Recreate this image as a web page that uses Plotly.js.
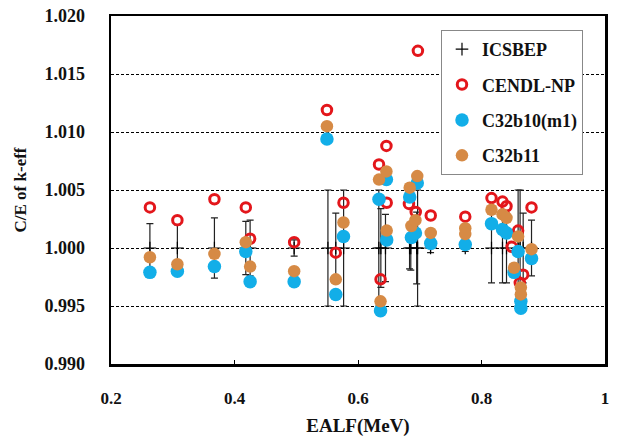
<!DOCTYPE html>
<html>
<head>
<meta charset="utf-8">
<script src="https://cdn.plot.ly/plotly-3.0.1.min.js"></script>
<style>html,body{margin:0;padding:0;background:#fff;}#chart{width:618px;height:440px;}</style>
</head>
<body>
<div id="chart"></div>
<script>
// ICSBEP benchmark (C/E = 1 by definition) with experimental uncertainty
const icsX   = [0.263,0.3075,0.3675,0.4183,0.4253,0.4966,0.5513,0.564,0.5767,0.6337,0.637,0.6445,0.6835,0.6855,0.695,0.6965,0.7175,0.7737,0.8162,0.834,0.8405,0.8593,0.8625,0.8675,0.881];
const icsY   = [1,1,1,1,1,1,1,1,1,1,1,1,1,1,1,1,1,1,1,1,1,1,1,1,1];
const icsErr = [0.0021,0.0020,0.0026,0.0023,0.0024,0.0007,0.0050,0.0030,0.0050,0.0050,0.0034,0.0029,0.0018,0.0019,0.0031,0.0050,0.0004,0.0003,0.0030,0.0030,0.0030,0.0050,0.0050,0.0030,0.0024];

// CENDL-NP
const cendlX = [0.263,0.3075,0.3675,0.4183,0.4253,0.4966,0.5497,0.564,0.5765,0.634,0.646,0.6465,0.6365,0.6825,0.6935,0.697,0.7178,0.7737,0.8162,0.834,0.8405,0.8593,0.849,0.8675,0.862,0.881];
const cendlY = [1.0035,1.0024,1.0042,1.0035,1.0008,1.0005,1.0119,0.9996,1.0039,1.0072,1.0088,1.0039,0.9973,1.0038,1.0031,1.0170,1.0028,1.0027,1.0043,1.0040,1.0036,1.0015,1.0001,0.9977,0.9970,1.0035];

// C32b10(m1)
const c10X = [0.263,0.3075,0.3675,0.4183,0.4253,0.4966,0.5497,0.564,0.5765,0.634,0.646,0.6465,0.6365,0.6837,0.696,0.6865,0.693,0.7178,0.7737,0.8162,0.834,0.8405,0.8593,0.8528,0.8637,0.8637,0.881];
const c10Y = [0.9979,0.9980,0.9984,0.9997,0.9971,0.9971,1.0094,0.9960,1.0010,1.0042,1.0059,1.0007,0.9946,1.0044,1.0056,1.0009,1.0013,1.0004,1.0003,1.0021,1.0016,1.0013,0.9997,0.9979,0.9954,0.9948,0.9991];

// C32b11
const c11X = [0.263,0.3075,0.3675,0.4183,0.4253,0.4966,0.5497,0.564,0.5765,0.634,0.646,0.6465,0.6365,0.6837,0.696,0.6865,0.693,0.7178,0.7737,0.7737,0.8162,0.834,0.8405,0.8593,0.8528,0.8637,0.8637,0.881];
const c11Y = [0.9992,0.9986,0.9995,1.0005,0.9984,0.9980,1.0105,0.9973,1.0022,1.0059,1.0066,1.0015,0.9954,1.0052,1.0062,1.0019,1.0024,1.0013,1.0017,1.0012,1.0033,1.0029,1.0026,1.0010,0.9983,0.9966,0.9960,0.9999];

const xTicks = [0.2,0.4,0.6,0.8,1.0];
const xTickText = ['0.2','0.4','0.6','0.8','1'];
const yTicks = [0.990,0.995,1.000,1.005,1.010,1.015,1.020];
const yTickText = ['0.990','0.995','1.000','1.005','1.010','1.015','1.020'];

const serif = '"Liberation Serif", "Times New Roman", serif';

const traces = [
  {
    x: icsX, y: icsY, name: 'ICSBEP', type: 'scatter', mode: 'markers',
    legendgroup: 'g1',
    marker: {symbol: 'cross-thin-open', size: 9, color: '#000', line: {color: '#000', width: 1.2}},
    error_y: {type: 'data', array: icsErr, visible: true, color: '#222', thickness: 1.2, width: 3.5}
  },
  {
    x: cendlX, y: cendlY, name: 'CENDL-NP', type: 'scatter', mode: 'markers',
    legendgroup: 'g2',
    marker: {symbol: 'circle-open', size: 9.5, color: '#e3161b', line: {color: '#e3161b', width: 3}}
  },
  {
    x: c10X, y: c10Y, name: 'C32b10(m1)', type: 'scatter', mode: 'markers',
    legendgroup: 'g3',
    marker: {symbol: 'circle', size: 13.5, color: '#12aee8', line: {width: 0}}
  },
  {
    x: c11X, y: c11Y, name: 'C32b11', type: 'scatter', mode: 'markers',
    legendgroup: 'g4',
    marker: {symbol: 'circle', size: 12.5, color: '#d68a45', line: {width: 0}}
  }
];

const layout = {
  width: 618, height: 440,
  margin: {l: 111, r: 13, t: 16, b: 76},
  paper_bgcolor: '#fff', plot_bgcolor: '#fff',
  showlegend: true,
  legend: {
    x: 0.668, y: 0.96, xanchor: 'left', yanchor: 'top',
    bgcolor: '#fff', bordercolor: '#888', borderwidth: 1,
    font: {family: serif, size: 18, color: '#111', weight: 'bold'},
    itemwidth: 30, traceorder: 'grouped', tracegroupgap: 9
  },
  xaxis: {
    range: [0.2, 1.0], tickmode: 'array', tickvals: xTicks, ticktext: xTickText,
    showgrid: false, zeroline: false,
    showline: true, linecolor: '#000', linewidth: 2.5, mirror: true,
    ticks: 'inside', ticklen: 4, tickcolor: '#000', tickwidth: 1,
    ticklabelstandoff: 17,
    tickfont: {family: serif, size: 17, color: '#111', weight: 'bold'},
    title: {text: 'EALF(MeV)', standoff: 12, font: {family: serif, size: 19, color: '#111', weight: 'bold'}}
  },
  yaxis: {
    range: [0.990, 1.020], tickmode: 'array', tickvals: yTicks, ticktext: yTickText,
    showgrid: true, gridcolor: '#000', gridwidth: 1, griddash: '3px,2px',
    zeroline: false,
    showline: true, linecolor: '#000', linewidth: 2.5, mirror: true,
    ticks: '', ticklabelstandoff: 20,
    tickfont: {family: serif, size: 18, color: '#111', weight: 'bold'},
    title: {text: 'C/E of k-eff', standoff: 14, font: {family: serif, size: 17, color: '#111', weight: 'bold'}}
  }
};

Plotly.newPlot('chart', traces, layout, {displayModeBar: false, staticPlot: true});
</script>
</body>
</html>
